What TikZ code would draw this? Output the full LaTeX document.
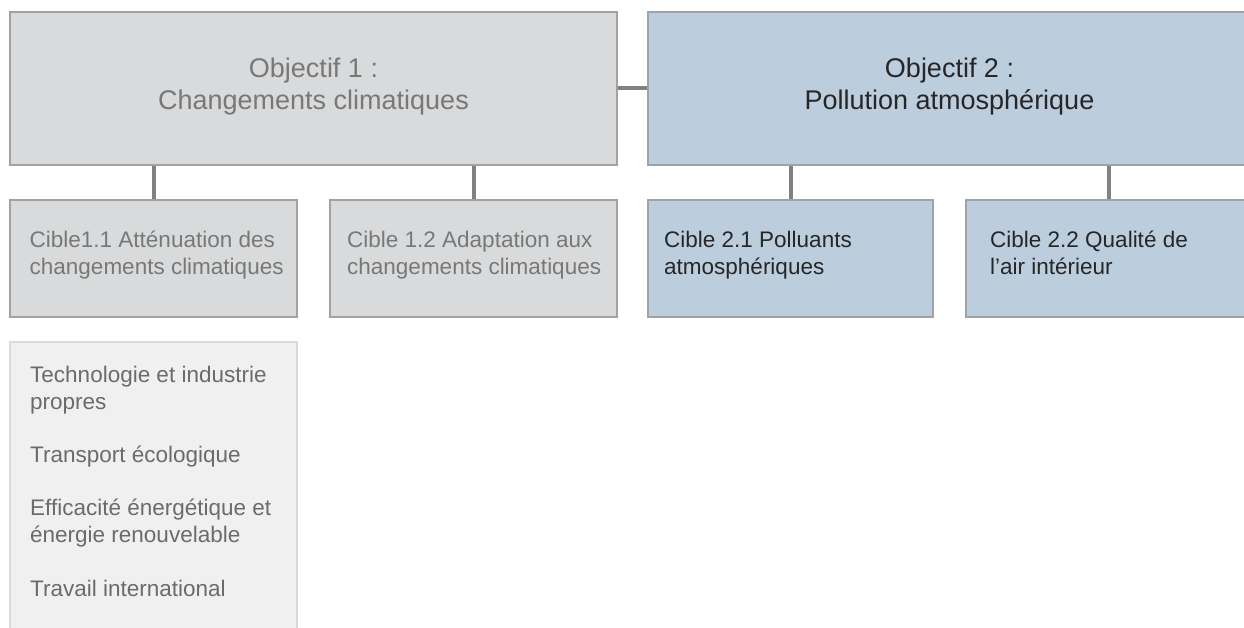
\documentclass[tikz,border=0pt]{standalone}
\usepackage{fontspec}
\setmainfont{Liberation Sans}
\definecolor{grayfill}{HTML}{D9DADB}
\definecolor{bluefill}{HTML}{BCCDDE}
\definecolor{listfill}{HTML}{F0F0F0}
\definecolor{boxline}{HTML}{A2A2A2}
\definecolor{listline}{HTML}{DADADA}
\definecolor{connline}{HTML}{808184}
\definecolor{graytext}{HTML}{787878}
\definecolor{darktext}{HTML}{262626}
\definecolor{listtext}{HTML}{6B6B6B}
\newcommand\tstrut{\rule{0pt}{20pt}}
\newcommand\bstrut{\rule{0pt}{24pt}}
\begin{document}
\begin{tikzpicture}[x=1pt,y=-1pt,
  box/.style={draw=boxline, line width=2pt, rectangle, inner sep=0pt},
  listbox/.style={draw=listline, fill=listfill, line width=2pt, rectangle, inner sep=0pt},
  conn/.style={draw=connline, line width=4pt},
  objtext/.style={inner sep=0pt, anchor=north, align=center, font=\fontsize{27}{32}\selectfont},
  cibletext/.style={inner sep=0pt, anchor=north west, align=left, font=\fontsize{22.5}{27}\selectfont},
]
\useasboundingbox (0,0) rectangle (1244,628);
\clip (0,0) rectangle (1244,628);

% objective boxes
\node[box, fill=grayfill, minimum width=607pt, minimum height=153pt] (o1) at (313.5,88.5) {};
\node[box, fill=bluefill, minimum width=607pt, minimum height=153pt] (o2) at (951.5,88.5) {};

% target boxes
\node[box, fill=grayfill, minimum width=287pt, minimum height=117pt] (c11) at (153.5,258.5) {};
\node[box, fill=grayfill, minimum width=287pt, minimum height=117pt] (c12) at (473.5,258.5) {};
\node[box, fill=bluefill, minimum width=285pt, minimum height=117pt] (c21) at (790.5,258.5) {};
\node[box, fill=bluefill, minimum width=286pt, minimum height=117pt] (c22) at (1109,258.5) {};

% list box
\node[listbox, minimum width=287pt, minimum height=300pt] (lst) at (153.5,492) {};

% connectors
\draw[conn] (o1.east) -- (o2.west);
\draw[conn] (c11.north) -- (c11.north |- o1.south);
\draw[conn] (c12.north) -- (c12.north |- o1.south);
\draw[conn] (c21.north) -- (c21.north |- o2.south);
\draw[conn] (c22.north) -- (c22.north |- o2.south);

% texts
\node[objtext, text=graytext] (o1t) at (313.5,53) {\bstrut Objectif 1 :\\Changements climatiques};
\node[objtext, text=darktext] (o2t) at (949.5,53) {\bstrut Objectif 2 :\\Pollution atmosphérique};

\node[cibletext, text=graytext] (c11t) at (29.5,227) {\tstrut Cible1.1 Atténuation des\\changements climatiques};
\node[cibletext, text=graytext] (c12t) at (347,227) {\tstrut Cible 1.2 Adaptation aux\\changements climatiques};
\node[cibletext, text=darktext] (c21t) at (664,227) {\tstrut Cible 2.1 Polluants\\atmosphériques};
\node[cibletext, text=darktext] (c22t) at (990,227) {\tstrut Cible 2.2 Qualité de\\l’air intérieur};

\node[cibletext, text=listtext] (lstt) at (30,362) {\tstrut Technologie et industrie\\propres\\[26pt]Transport écologique\\[26pt]Efficacité énergétique et\\énergie renouvelable\\[27pt]Travail international};
\end{tikzpicture}
\end{document}
